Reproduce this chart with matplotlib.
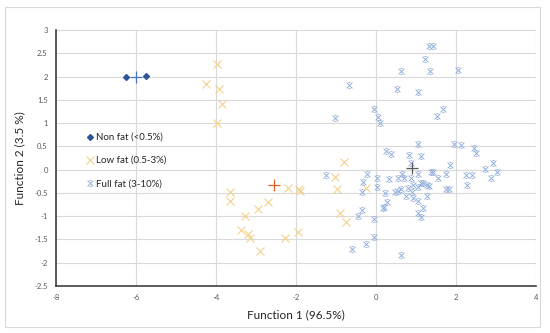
import matplotlib.pyplot as plt
import numpy as np
from matplotlib.path import Path
from matplotlib.patches import Rectangle

plt.rcParams['font.family'] = ['Lato', 'DejaVu Sans']

# discriminant scores
non_fat_x = [-6.26, -5.76]
non_fat_y = [1.98, 2.02]

low_fat_x = [-3.98, -4.25, -3.92, -3.85, -3.98, -0.81, -1.03, -0.97, -0.24,
             -2.21, -1.92, -1.90, -3.65, -3.64, -2.70, -2.95, -3.27, -0.89,
             -0.76, -3.37, -3.19, -3.14, -2.27, -1.96, -2.89]
low_fat_y = [2.28, 1.85, 1.73, 1.41, 1.00, 0.16, -0.15, -0.41, -0.40,
             -0.39, -0.42, -0.46, -0.49, -0.67, -0.69, -0.85, -0.99, -0.93,
             -1.13, -1.29, -1.39, -1.46, -1.46, -1.35, -1.74]

full_fat_x = [1.33, 1.43, 1.22, 0.63, 1.34, 2.05, -0.68, 0.53, 1.06, -0.05,
              1.68, 0.04, 1.53, 0.11, -1.03, 1.04, 1.96, 2.12, 0.25, 0.37,
              0.83, 1.13, 2.45, 2.50, 1.85, 2.92, 2.73, 3.02, 2.88, 2.25,
              2.41, 2.27, 1.75, 1.37, 1.42, 1.56, 1.75, 1.82, -1.24, -0.23,
              -0.33, -0.34, 0.02, 0.02, 0.22, 0.33, 0.48, 0.56, 0.62, 0.54,
              0.66, 0.71, 0.87, 1.06, 0.93, 1.04, 1.13, 1.18, 1.27, 1.33,
              0.79, 0.89, 0.75, 0.92, 1.04, 1.28, 0.27, 0.21, 0.17, -0.36,
              -0.44, -0.04, 1.04, 1.12, 1.18, -0.05, -0.25, -0.61, 0.62, 0.88]
full_fat_y = [2.66, 2.66, 2.37, 2.12, 2.11, 2.14, 1.81, 1.73, 1.66, 1.31,
              1.31, 1.14, 1.15, 1.01, 1.12, 0.56, 0.55, 0.53, 0.40, 0.34,
              0.31, 0.30, 0.46, 0.35, 0.11, 0.14, 0.01, -0.06, -0.17, -0.12,
              -0.12, -0.32, -0.10, -0.05, -0.06, -0.17, -0.42, -0.42, -0.12, -0.10,
              -0.26, -0.47, -0.17, -0.38, -0.51, -0.20, -0.49, -0.46, -0.42, -0.19,
              -0.10, -0.17, -0.19, -0.10, -0.33, -0.37, -0.29, -0.28, -0.32, -0.35,
              -0.40, -0.49, -0.56, -0.60, -0.67, -0.56, -0.69, -0.80, -0.83, -0.87,
              -1.00, -1.07, -0.93, -1.02, -0.83, -1.45, -1.60, -1.71, -1.83, 0.14]

# group centroids
centroid_x = [-6.01, -2.55, 0.91]
centroid_y = [1.99, -0.33, 0.04]
centroid_colors = ['#4472C4', '#E0622B', '#595959']

labels = ['Non fat (<0.5%)', 'Low fat (0.5-3%)', 'Full fat (3-10%)']

# excel-like "star" marker: an x with short caps
star = Path([(-1, -1), (1, 1), (-1, 1), (1, -1), (-0.35, 1), (0.35, 1), (-0.35, -1), (0.35, -1)],
            [Path.MOVETO, Path.LINETO, Path.MOVETO, Path.LINETO,
             Path.MOVETO, Path.LINETO, Path.MOVETO, Path.LINETO])

fig = plt.figure(figsize=(5.5, 3.33), dpi=100)
ax = fig.add_axes([56 / 550, 1 - 286 / 333, 480 / 550, 256 / 333])

ax.plot(non_fat_x, non_fat_y, linestyle='none', marker='D', markersize=3,
        color='#2F5597', label=labels[0])
ax.plot(low_fat_x, low_fat_y, linestyle='none', marker='x', markersize=5.5,
        markeredgewidth=0.8, color='#F5D08A', label=labels[1])
ax.plot(full_fat_x, full_fat_y, linestyle='none', marker=star, markersize=4.2,
        markeredgewidth=0.65, color='#8DABDA', label=labels[2])

for cx, cy, c in zip(centroid_x, centroid_y, centroid_colors):
    ax.plot(cx, cy, linestyle='none', marker='+', markersize=9,
            markeredgewidth=0.9, color=c)

ax.set_xlim(-8, 4)
ax.set_ylim(-2.5, 3)
ax.set_xticks(np.arange(-8, 5, 2))
ax.set_yticks(np.arange(-2.5, 3.01, 0.5))
ax.set_xticklabels([f'{v:g}' for v in np.arange(-8, 5, 2)])
ax.set_yticklabels([f'{v:g}' for v in np.arange(-2.5, 3.01, 0.5)])
ax.tick_params(length=0, labelsize=5.5, labelcolor='#595959', pad=6)
ax.grid(True, color='#D9D9D9', linewidth=0.8)
ax.set_axisbelow(True)
for s in ['top', 'right']:
    ax.spines[s].set_visible(False)
for s in ['left', 'bottom']:
    ax.spines[s].set_color('#404040')
    ax.spines[s].set_linewidth(1.2)

ax.set_xlabel('Function 1 (96.5%)', fontsize=8.5, color='#262626', labelpad=6)
ax.set_ylabel('Function 2 (3.5 %)', fontsize=8.5, color='#262626', labelpad=6)

leg = ax.legend(loc='center left', bbox_to_anchor=(0.055, 0.49), frameon=False,
                fontsize=7, handlelength=0.6, handletextpad=0.3, labelspacing=1.45,
                borderpad=0)
for t in leg.get_texts():
    t.set_color('#262626')

fig.add_artist(Rectangle((0.0085, 0.018), 0.9735, 0.96, transform=fig.transFigure,
                         fill=False, edgecolor='#D9D9D9', linewidth=0.8))

fig.savefig('out.png', dpi=100)
